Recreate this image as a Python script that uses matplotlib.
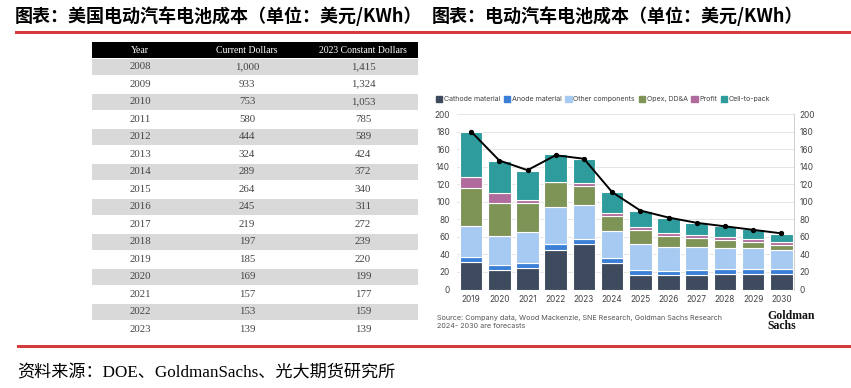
import matplotlib
matplotlib.use("Agg")
import matplotlib.pyplot as plt
from matplotlib.patches import Rectangle
import numpy as np

# ---------------- data ----------------
table_years = ["2008", "2009", "2010", "2011", "2012", "2013", "2014", "2015",
               "2016", "2017", "2018", "2019", "2020", "2021", "2022", "2023"]
current_dollars = ["1,000", "933", "753", "580", "444", "324", "289", "264",
                   "245", "219", "197", "185", "169", "157", "153", "139"]
constant_dollars = ["1,415", "1,324", "1,053", "785", "589", "424", "372", "340",
                    "311", "272", "239", "220", "199", "177", "159", "139"]
table_header = ["Year", "Current Dollars", "2023 Constant Dollars"]

years = ["2019", "2020", "2021", "2022", "2023", "2024", "2025", "2026",
         "2027", "2028", "2029", "2030"]
cathode = [31, 22, 24, 45, 51.5, 30, 17, 16, 17, 18, 18, 18]
anode = [5.5, 5.5, 6, 7, 6.5, 5.5, 5.5, 5.5, 5.5, 5.5, 5.5, 5.5]
other = [35.5, 34, 36, 41.5, 38, 31, 29, 27.5, 25.5, 24, 23.5, 21]
opex = [44, 37, 33, 28.5, 22, 17.5, 16.5, 12, 10.5, 8.5, 7, 6.5]
profit = [12, 11, 3.5, 0.5, 3.5, 3.5, 3, 3.5, 3.5, 3.5, 3, 3]
cell_to_pack = [52, 37.5, 33, 31.5, 27, 23.5, 19, 16.5, 14, 12.5, 11.5, 9.5]
total_line = [180, 147, 136, 153, 149, 111, 90, 82, 76, 72, 68, 64]

series_names = ["Cathode material", "Anode material", "Other components",
                "Opex, DD&A", "Profit", "Cell-to-pack"]
series_values = [cathode, anode, other, opex, profit, cell_to_pack]
series_colors = ["#3e4b5e", "#3b7fd6", "#a6caf1", "#7e9457", "#b06b9c", "#2e9b9d"]

title_left = "图表：美国电动汽车电池成本（单位：美元/KWh）"
title_right = "图表：电动汽车电池成本（单位：美元/KWh）"
footer = "资料来源：DOE、GoldmanSachs、光大期货研究所"
source_text = ("Source: Company data, Wood Mackenzie, SNE Research, Goldman Sachs Research\n"
               "2024- 2030 are forecasts")

# ---------------- figure ----------------
W, H = 851, 388
fig = plt.figure(figsize=(W / 100, H / 100), dpi=100)
fig.patch.set_facecolor("white")


def fx(x):
    return x / W


def fy(y):
    return 1 - y / H


cjk = ["Noto Sans CJK SC", "DejaVu Sans"]
serif_cjk = ["Liberation Serif", "Noto Sans CJK SC"]

# titles
fig.text(fx(15), fy(16), title_left, family=cjk, fontsize=13, fontweight="bold",
         va="center", ha="left", color="black")
fig.text(fx(432), fy(16), title_right, family=cjk, fontsize=13, fontweight="bold",
         va="center", ha="left", color="black")

# red rules
fig.add_artist(Rectangle((fx(15), fy(34)), fx(851) - fx(15), 3 / H,
                         transform=fig.transFigure, color="#d63a3c", lw=0))
fig.add_artist(Rectangle((fx(17), fy(348)), fx(851) - fx(17), 3 / H,
                         transform=fig.transFigure, color="#d63a3c", lw=0))

# footer
fig.text(fx(17), fy(373), footer, family=serif_cjk, fontsize=12.3, va="center",
         ha="left", color="black")

# ---------------- table ----------------
tx0, tx1, ty0, ty1 = 92, 418, 42, 338
axt = fig.add_axes([fx(tx0), fy(ty1), fx(tx1) - fx(tx0), (ty1 - ty0) / H])
tw, th = tx1 - tx0, ty1 - ty0
axt.set_xlim(0, tw)
axt.set_ylim(th, 0)
axt.axis("off")
header_h = 16
row_h = (th - header_h) / len(table_years)
col_x = [48, 155, 271]
axt.add_patch(Rectangle((0, 0), tw, header_h, color="black", lw=0))
for j, lab in enumerate(table_header):
    axt.text(col_x[j], header_h / 2 + 0.5, lab, color="white", fontsize=7,
             family="Liberation Serif", ha="center", va="center")
for i, (yr, cd, kd) in enumerate(zip(table_years, current_dollars, constant_dollars)):
    top = header_h + i * row_h
    if i % 2 == 0:
        axt.add_patch(Rectangle((0, top + 0.5), tw, row_h - 1, color="#d9d9d9", lw=0))
    for j, val in enumerate([yr, cd, kd]):
        axt.text(col_x[j], top + row_h / 2, val, color="#444444", fontsize=7.8,
                 family="Liberation Serif", ha="center", va="center")

# ---------------- stacked bar chart ----------------
ax = fig.add_axes([fx(457), fy(289.5), fx(794) - fx(457), (289.5 - 114) / H])
x = np.arange(len(years))
bottom = np.zeros(len(years))
handles = []
for name, vals, col in zip(series_names, series_values, series_colors):
    v = np.array(vals, dtype=float)
    ax.bar(x, v, bottom=bottom, width=0.8, color=col, edgecolor="white",
           linewidth=0.8, label=name, zorder=3)
    bottom += v
    handles.append(Rectangle((0, 0), 1, 1, color=col))
ax.plot(x, total_line, color="black", lw=1.4, marker="o", markersize=2.8, zorder=5)

ax.set_xlim(-0.5, 11.45)
ax.set_ylim(0, 200)
ax.set_yticks(range(0, 201, 20))
ax.set_xticks(x)
ax.set_xticklabels(years)
ax.grid(axis="y", color="#e6e6e6", lw=0.7, zorder=0)
for s in ["top", "bottom", "left"]:
    ax.spines[s].set_visible(False)
ax.spines["right"].set_color("#d0d0d0")
ax.spines["right"].set_linewidth(0.7)
ax.tick_params(axis="both", length=0, labelsize=6, labelcolor="#444444", pad=4)
ax.tick_params(axis="y", pad=5)
for lbl in ax.get_xticklabels() + ax.get_yticklabels():
    lbl.set_family("Inter")

ax2 = ax.twinx()
ax2.set_ylim(0, 200)
ax2.set_yticks(range(0, 201, 20))
for s in ["top", "bottom", "left", "right"]:
    ax2.spines[s].set_visible(False)
ax2.tick_params(axis="y", length=0, labelsize=6, labelcolor="#444444", pad=4)
for lbl in ax2.get_yticklabels():
    lbl.set_family("Inter")

fig.legend(handles, series_names, loc="center left", bbox_to_anchor=(fx(436), fy(99)),
           ncol=6, frameon=False, handlelength=0.9, handleheight=0.9,
           handletextpad=0.25, columnspacing=0.5, borderaxespad=0, borderpad=0,
           prop={"family": "Inter", "size": 5.1})
for t in fig.legends[0].get_texts():
    t.set_color("#444444")

fig.text(fx(437), fy(322), source_text, family="Inter", fontsize=5.2,
         color="#555555", ha="left", va="center", linespacing=1.4)
fig.text(fx(767), fy(321), "Goldman\nSachs", family="Liberation Serif", fontsize=8.5,
         fontweight="bold", color="#111111", ha="left", va="center", linespacing=0.8)

fig.savefig("out.png", dpi=100, facecolor="white")
